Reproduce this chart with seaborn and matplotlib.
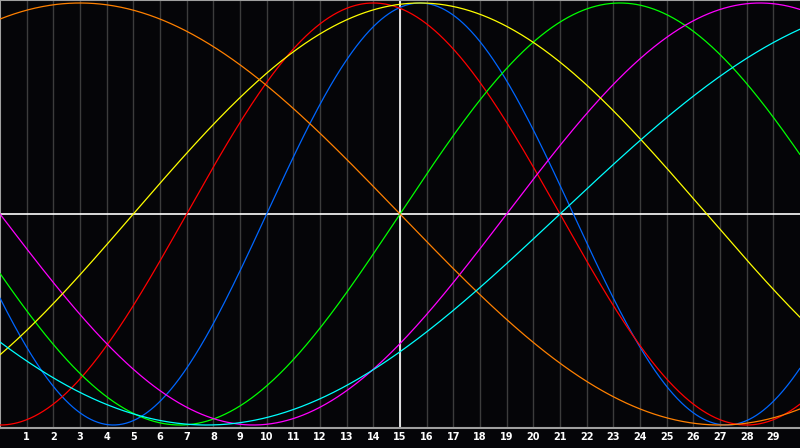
import numpy as np
import pandas as pd
import matplotlib
matplotlib.use("Agg")
import matplotlib.pyplot as plt
import seaborn as sns

# ---- data ----
cycle_names = ["physical", "emotional", "intellectual", "intuitive",
               "aesthetic", "awareness", "spiritual"]
periods = [23, 28, 33, 38, 43, 48, 53]           # cycle length in days
zero_up_day = [10, 7, 15, 19, 5, -9, 21]          # day where cycle crosses 0 rising
colors = ["#0066ff", "#ff0000", "#00ff00", "#ff00ff",
          "#ffff00", "#ff8000", "#00ffff"]
day_ticks = list(range(1, 30))
today = 15
day_range = (0, 30)

# ---- build long table ----
days = np.linspace(day_range[0], day_range[1], 901)
frames = []
for name, p, z in zip(cycle_names, periods, zero_up_day):
    frames.append(pd.DataFrame({
        "day": days,
        "value": np.sin(2 * np.pi * (days - z) / p),
        "cycle": name,
    }))
df = pd.concat(frames, ignore_index=True)

sns.set_style("dark")
bg = "#050508"
fig = plt.figure(figsize=(8, 4.48), dpi=100, facecolor=bg)
ax = fig.add_axes([0, 20 / 448, 1, 428 / 448])
ax.set_facecolor(bg)

for d in day_ticks:
    ax.axvline(d, color="#3c3c3c", lw=1, zorder=1)
ax.axvline(today, color="white", lw=1.2, zorder=2)
ax.axhline(0, color="white", lw=1.2, zorder=2)

sns.lineplot(data=df, x="day", y="value", hue="cycle",
             palette=dict(zip(cycle_names, colors)), hue_order=cycle_names,
             lw=0.9, legend=False, ax=ax, zorder=3)

ax.set_xlim(*day_range)
ax.set_ylim(-214 / 211, 214 / 211)
ax.set_xticks(day_ticks)
ax.set_xticklabels([str(d) for d in day_ticks], fontweight="bold")
ax.set_yticks([])
ax.tick_params(axis="x", length=0, colors="white", labelsize=7, pad=3)
ax.set_xlabel("")
ax.set_ylabel("")
ax.grid(False)
for s in ax.spines.values():
    s.set_visible(True)
    s.set_color("#a0a0a0")
    s.set_linewidth(1.5)
ax.spines["right"].set_visible(False)

fig.savefig("out.png", dpi=100, facecolor=bg)
